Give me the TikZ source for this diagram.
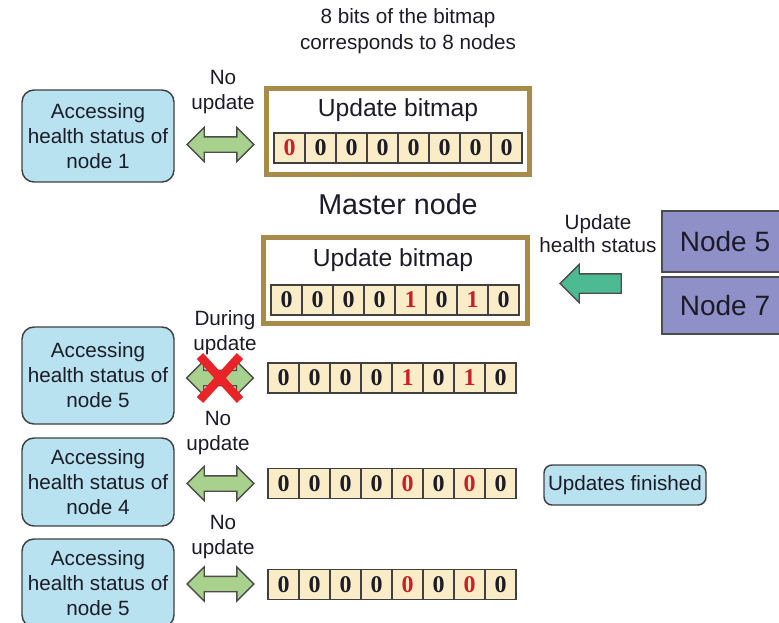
\documentclass[tikz,border=0pt]{standalone}
\usepackage{fontspec}
\setmainfont{Liberation Sans}
\newfontfamily\bitfont{Liberation Serif}
\usetikzlibrary{shapes.arrows, positioning}
\definecolor{accessblue}{RGB}{185,226,240}
\definecolor{mapgold}{RGB}{166,139,74}
\definecolor{cellcream}{RGB}{250,236,198}
\definecolor{bitred}{RGB}{200,32,42}
\definecolor{linkgreen}{RGB}{169,209,142}
\definecolor{pushteal}{RGB}{76,187,148}
\definecolor{nodepurple}{RGB}{143,144,200}
\definecolor{crossred}{RGB}{232,36,40}
\definecolor{ink}{RGB}{28,28,40}

% one row of 8 bit cells: name, left x, centre y, value/colour list
\newcommand{\bitrow}[4]{%
  \foreach \v/\col [count=\i] in {#4}
    \node[bitcell, text=\col] (#1-\i) at ({#2+15.5+31*(\i-1)}, #3) {\v};
}

\begin{document}
\begin{tikzpicture}[x=0.75pt, y=-0.75pt,
  txt/.style={text=ink, font=\fontsize{15.5}{18.75}\selectfont, align=center, inner sep=0pt},
  big/.style={font=\fontsize{18.5}{22}\selectfont},
  access/.style={txt, draw=black!75, line width=1.1pt, fill=accessblue, rounded corners=9pt,
    minimum width=114pt, minimum height=66pt},
  mapbox/.style={draw=mapgold, line width=3.75pt, minimum width=197.25pt, minimum height=64.5pt},
  bitcell/.style={draw=black!75, line width=0.9pt, fill=cellcream, minimum width=23.25pt,
    minimum height=22.5pt, inner sep=0pt, font=\bitfont\bfseries\fontsize{18}{18}\selectfont},
  link/.style={double arrow, draw=black!70, line width=1pt, fill=linkgreen, inner sep=0pt,
    text height=10.5pt, text depth=0pt, minimum height=50pt, double arrow head extend=7pt},
  push/.style={single arrow, draw=black!70, line width=1pt, fill=pushteal, inner sep=0pt,
    text height=13.5pt, text depth=0pt, minimum height=45.75pt, single arrow head extend=7.1pt,
    shape border rotate=180},
  member/.style={draw=black!70, line width=1pt, fill=nodepurple, text=ink,
    minimum width=94.5pt, font=\fontsize{21}{25}\selectfont},
  cross/.style={crossred, line width=6.5pt}]
  \useasboundingbox (0,0) rectangle (779,622);

  \node[txt, font=\fontsize{15.5}{19.5}\selectfont] (note) at (408,31) {8 bits of the bitmap\\corresponds to 8 nodes};

  % master node before the update
  \node[mapbox] (mapA) at (398,131.5) {};
  \node[txt, big] (titleA) at (398,110) {Update bitmap};
  \bitrow{bitA}{274}{148}{0/bitred,0/ink,0/ink,0/ink,0/ink,0/ink,0/ink,0/ink}
  \node[txt, font=\fontsize{21.5}{26}\selectfont] (master) at (398,204) {Master node};

  % master node during the update
  \node[mapbox, minimum width=198pt] (mapB) at (395.5,280.5) {};
  \node[txt, big] (titleB) at (393,260) {Update bitmap};
  \bitrow{bitB}{271}{300}{0/ink,0/ink,0/ink,0/ink,1/bitred,0/ink,1/bitred,0/ink}

  % nodes sending updates
  \node[member, minimum height=45.75pt] (node5) at (725,241.5) {Node 5};
  \node[member, minimum height=42.75pt] (node7) at (725,305.5) {Node 7};
  \node[push] (push) at (595.5,283.5) {};
  \node[txt, font=\fontsize{15.5}{17.25}\selectfont] at (598,233.5) {Update\\health status};

  % readers
  \node[access, minimum height=69pt] (readA) at (98,136) {Accessing\\health status of\\node 1};
  \node[link] (linkA) at (220.5,144.5) {};
  \node[txt] at (223,92) {No\\update};

  \node[access, minimum height=72.75pt] (readC) at (98,375.5) {Accessing\\health status of\\node 5};
  \node[link] (linkC) at (220,378) {};
  \draw[cross] ([shift={(-20,-22)}]linkC.center) -- ([shift={(20,22)}]linkC.center);
  \draw[cross] ([shift={(20,-22)}]linkC.center) -- ([shift={(-20,22)}]linkC.center);
  \node[txt] at (225,332.5) {During\\update};
  \bitrow{bitC}{268}{378}{0/ink,0/ink,0/ink,0/ink,1/bitred,0/ink,1/bitred,0/ink}

  \node[access] (readD) at (98,482) {Accessing\\health status of\\node 4};
  \node[link] (linkD) at (220.5,483.5) {};
  \node[txt] at (218,433.5) {No\\update};
  \bitrow{bitD}{268}{483.5}{0/ink,0/ink,0/ink,0/ink,0/bitred,0/ink,0/bitred,0/ink}
  \node[access, minimum width=121.5pt, minimum height=30pt, rounded corners=6pt] (done) at (625,485) {Updates finished};

  \node[access] (readE) at (98,583) {Accessing\\health status of\\node 5};
  \node[link] (linkE) at (220.5,584) {};
  \node[txt] at (223,537) {No\\update};
  \bitrow{bitE}{268}{584.5}{0/ink,0/ink,0/ink,0/ink,0/bitred,0/ink,0/bitred,0/ink}
\end{tikzpicture}
\end{document}
